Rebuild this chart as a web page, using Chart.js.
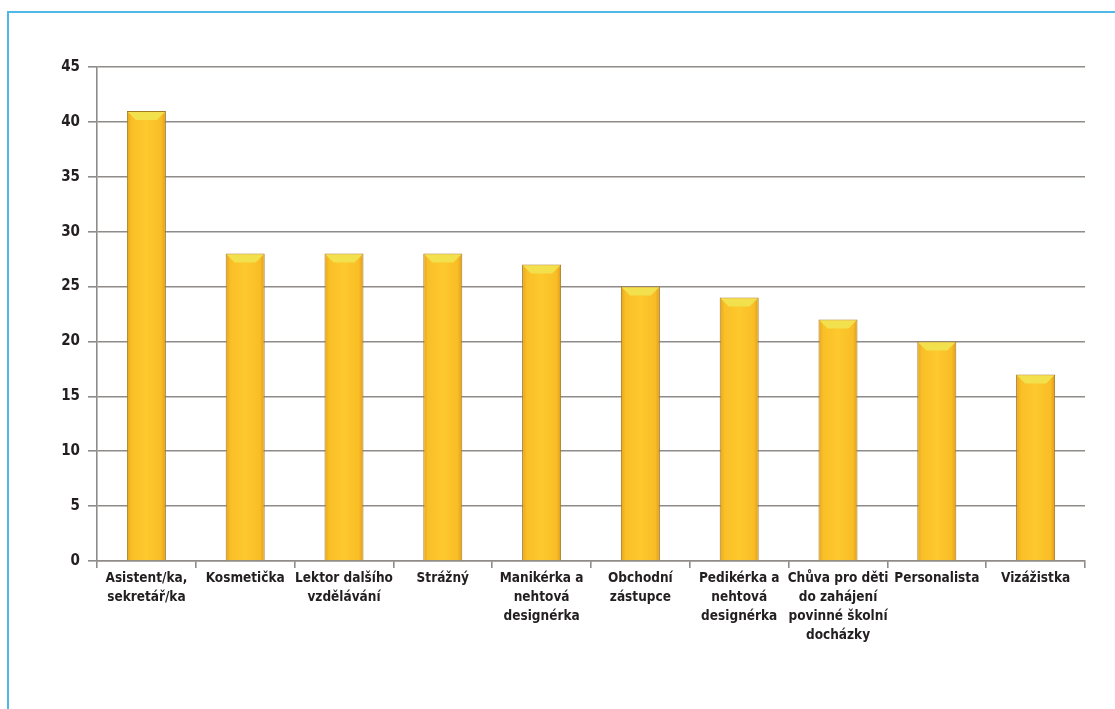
<!DOCTYPE html>
<html>
<head>
<meta charset="utf-8">
<script src="https://cdn.jsdelivr.net/npm/chart.js@4/dist/chart.umd.min.js"></script>
<style>
    html, body { margin: 0; padding: 0; background: #fff; }
    #wrap { position: relative; width: 1115px; height: 709px; overflow: hidden; }
    #frame {
        position: absolute; left: 7px; top: 11px; width: 1200px; height: 800px;
        border-left: 2px solid #4fb8e6; border-top: 2px solid #4fb8e6;
    }
    #chart1 { position: absolute; left: 0; top: 0; }
</style>
</head>
<body>
<div id="wrap">
    <div id="frame"></div>
    <canvas id="chart1" width="1115" height="709"></canvas>
</div>
<script>
// data
const categories = [
    ['Asistent/ka,', 'sekretář/ka'],
    'Kosmetička',
    ['Lektor dalšího', 'vzdělávání'],
    'Strážný',
    ['Manikérka a', 'nehtová', 'designérka'],
    ['Obchodní', 'zástupce'],
    ['Pedikérka a', 'nehtová', 'designérka'],
    ['Chůva pro děti', 'do zahájení', 'povinné školní', 'docházky'],
    'Personalista',
    'Vizážistka'
];
const counts = [41, 28, 28, 28, 27, 25, 24, 22, 20, 17];
const yMin = 0, yMax = 45, yStep = 5;

const fontFamily = "'DejaVu Sans Condensed', 'Liberation Sans', sans-serif";
const xFont = { family: fontFamily, weight: 'bold', size: 13.5, lineHeight: 1.4 };
const yFont = { family: fontFamily, weight: 'bold', size: 15 };
const gridGrey = '#8e8b88';

// gives every bar a side-shaded fill and a light bevel at the top
const barLook = {
    id: 'barLook',
    beforeDatasetsDraw(chart) {
        const ctx = chart.ctx;
        chart.getDatasetMeta(0).data.forEach(bar => {
            const l = bar.x - bar.width / 2, r = bar.x + bar.width / 2;
            const g = ctx.createLinearGradient(l, 0, r, 0);
            g.addColorStop(0, '#e6a41e');
            g.addColorStop(0.12, '#fabf27');
            g.addColorStop(0.5, '#fdc92d');
            g.addColorStop(0.88, '#f9bd26');
            g.addColorStop(1, '#df9b1a');
            // own options object per bar, the resolved one is shared
            bar.options = Object.assign({}, bar.options, { backgroundColor: g });
        });
    },
    afterDatasetsDraw(chart) {
        const ctx = chart.ctx;
        chart.getDatasetMeta(0).data.forEach(bar => {
            const l = bar.x - bar.width / 2 + 1, r = bar.x + bar.width / 2 - 1;
            const t = bar.y + 1, d = 8;
            ctx.save();
            ctx.fillStyle = '#f2e04c';
            ctx.beginPath();
            ctx.moveTo(l, t);
            ctx.lineTo(r, t);
            ctx.lineTo(r - d, t + d);
            ctx.lineTo(l + d, t + d);
            ctx.closePath();
            ctx.fill();
            ctx.restore();
        });
    }
};

new Chart(document.getElementById('chart1'), {
    type: 'bar',
    data: {
        labels: categories,
        datasets: [{
            data: counts,
            backgroundColor: '#fcc52a',
            borderColor: '#a57b22',
            borderWidth: 1,
            borderSkipped: 'bottom',
            barPercentage: 0.395,
            categoryPercentage: 1
        }]
    },
    options: {
        responsive: false,
        animation: false,
        devicePixelRatio: 1,
        layout: { padding: { top: 67, right: 30, left: 0, bottom: 0 } },
        plugins: { legend: { display: false }, tooltip: { enabled: false } },
        scales: {
            y: {
                min: yMin, max: yMax,
                ticks: { stepSize: yStep, font: yFont, color: '#231f20', padding: 8 },
                grid: { color: gridGrey, lineWidth: 1.6, tickLength: 9 },
                border: { display: true, color: gridGrey, width: 1.6 },
                afterFit(s) { s.width = 97; }
            },
            x: {
                offset: true,
                ticks: { font: xFont, color: '#231f20', padding: 1, maxRotation: 0, autoSkip: false },
                grid: { offset: true, drawOnChartArea: false, color: gridGrey, lineWidth: 1.6, tickLength: 7 },
                border: { display: true, color: gridGrey, width: 1.6 },
                afterFit(s) { s.height = 148; }
            }
        }
    },
    plugins: [barLook]
});
</script>
</body>
</html>
